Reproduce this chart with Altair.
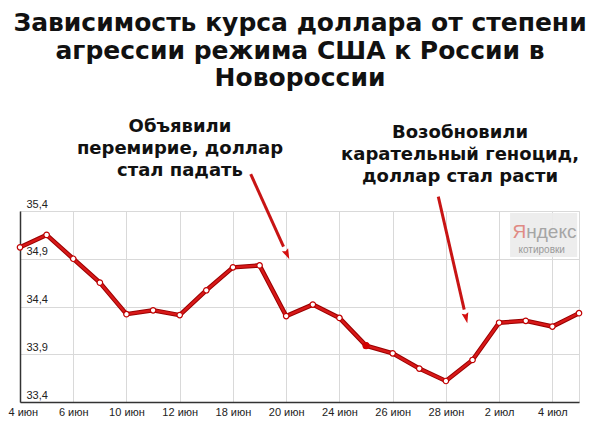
import json
import altair as alt
import pandas as pd

# ---- data ----
dates = ["4 июн", "5 июн", "6 июн", "9 июн", "10 июн", "11 июн", "12 июн",
         "17 июн", "18 июн", "19 июн", "20 июн", "23 июн", "24 июн", "25 июн",
         "26 июн", "27 июн", "28 июн", "30 июн", "2 июл", "3 июл", "4 июл", "5 июл"]
rates = [35.02, 35.15, 34.90, 34.65, 34.32, 34.36, 34.31, 34.57, 34.81, 34.83,
         34.30, 34.42, 34.28, 33.99, 33.91, 33.75, 33.62, 33.84, 34.23, 34.25,
         34.19, 34.33]
highlight_index = 13
y_ticks = [33.4, 33.9, 34.4, 34.9, 35.4]
x_ticks = list(range(0, 21, 2))

title_lines = ["Зависимость курса доллара от степени",
               "агрессии режима США к России в",
               "Новороссии"]
title_y = [37.37, 37.08, 36.79]
title_x = 10.52

note1_lines = ["Объявили", "перемирие, доллар", "стал падать"]
note1_y = [36.28, 36.049, 35.819]
note1_x = 6.01
note2_lines = ["Возобновили", "карательный геноцид,", "доллар стал расти"]
note2_y = [36.217, 35.986, 35.756]
note2_x = 16.53

# arrows (data coordinates): start, shaft end, tip, angle
arrow_x0 = [8.667, 15.714]
arrow_y0 = [35.787, 35.55]
arrow_x1 = [9.899, 16.687]
arrow_y1 = [35.028, 34.368]
arrow_xt = [10.117, 16.804]
arrow_yt = [34.894, 34.224]
arrow_angle = [335.7, 347.1]

df = pd.DataFrame({"idx": list(range(len(dates))), "date": dates, "rate": rates})
df_hi = df[df["idx"] == highlight_index]

x_scale = alt.Scale(domain=[0, len(dates) - 1], nice=False, zero=False)
y_scale = alt.Scale(domain=[33.4, 35.4], nice=False, zero=False)

label_expr = json.dumps(dates, ensure_ascii=False) + "[datum.value]"

x_axis = alt.Axis(values=x_ticks, labelExpr=label_expr, grid=True, gridColor="#d9d9d9",
                  ticks=False, domainColor="#333333", domainWidth=1.5,
                  labelFlush=True, labelFlushOffset=12, labelOverlap=False, labelPadding=4,
                  labelFont="Liberation Sans", labelFontSize=11, labelColor="#222222",
                  title=None)
y_axis = alt.Axis(values=y_ticks, labelExpr="replace(format(datum.value, '.1f'), '.', ',')",
                  grid=True, gridColor="#d9d9d9", ticks=False, tickSize=0,
                  domainColor="#333333", domainWidth=1.5,
                  labelAlign="left", labelBaseline="bottom", labelPadding=-6,
                  labelOffset=-2, labelFlush=False, labelOverlap=False,
                  labelFont="Liberation Sans", labelFontSize=11, labelColor="#222222",
                  title=None)

base = alt.Chart(df)

line_shadow = base.mark_line(color="#9a0000", strokeWidth=4.5).encode(
    x=alt.X("idx:Q", scale=x_scale, axis=x_axis),
    y=alt.Y("rate:Q", scale=y_scale, axis=y_axis),
)
line_main = base.mark_line(color="#d81818", strokeWidth=2.5).encode(
    x=alt.X("idx:Q", scale=x_scale), y=alt.Y("rate:Q", scale=y_scale))
points = base.mark_point(filled=True, fill="white", stroke="#c00000", strokeWidth=1.2,
                         size=30, opacity=1).encode(
    x=alt.X("idx:Q", scale=x_scale), y=alt.Y("rate:Q", scale=y_scale))
point_hi = alt.Chart(df_hi).mark_point(filled=True, color="#d00000", size=50, opacity=1).encode(
    x=alt.X("idx:Q", scale=x_scale), y=alt.Y("rate:Q", scale=y_scale))

# Yandex watermark
wm_box = alt.Chart(pd.DataFrame({"x": [18.41], "x2": [20.93], "y": [35.379], "y2": [34.918]})).mark_rect(
    color="#ececec", opacity=0.92).encode(
    x=alt.X("x:Q", scale=x_scale), x2="x2:Q", y=alt.Y("y:Q", scale=y_scale), y2="y2:Q")
wm_ya = alt.Chart(pd.DataFrame({"x": [18.50], "y": [35.18], "t": ["Я"]})).mark_text(
    align="left", baseline="middle", font="Liberation Sans", fontSize=19, color="#e08a84").encode(
    x=alt.X("x:Q", scale=x_scale), y=alt.Y("y:Q", scale=y_scale), text="t:N")
wm_word = alt.Chart(pd.DataFrame({"x": [19.02], "y": [35.18], "t": ["ндекс"]})).mark_text(
    align="left", baseline="middle", font="Liberation Sans", fontSize=19, color="#a5a5a5").encode(
    x=alt.X("x:Q", scale=x_scale), y=alt.Y("y:Q", scale=y_scale), text="t:N")
wm_sub = alt.Chart(pd.DataFrame({"x": [19.6], "y": [34.995], "t": ["котировки"]})).mark_text(
    align="center", baseline="middle", font="Liberation Sans", fontSize=10, color="#9a9a9a").encode(
    x=alt.X("x:Q", scale=x_scale), y=alt.Y("y:Q", scale=y_scale), text="t:N")

# Title and notes
title_df = pd.DataFrame({"t": title_lines, "y": title_y, "x": [title_x] * len(title_lines)})
title = alt.Chart(title_df).mark_text(
    align="center", baseline="middle", font="DejaVu Sans", fontWeight="bold",
    fontSize=25, color="#111111").encode(
    x=alt.X("x:Q", scale=x_scale), y=alt.Y("y:Q", scale=y_scale), text="t:N")

notes_df = pd.DataFrame({"t": note1_lines + note2_lines,
                         "y": note1_y + note2_y,
                         "x": [note1_x] * 3 + [note2_x] * 3})
notes = alt.Chart(notes_df).mark_text(
    align="center", baseline="middle", font="DejaVu Sans", fontWeight="bold",
    fontSize=18, color="#111111").encode(
    x=alt.X("x:Q", scale=x_scale), y=alt.Y("y:Q", scale=y_scale), text="t:N")

arrows_df = pd.DataFrame({"x0": arrow_x0, "y0": arrow_y0, "x1": arrow_x1, "y1": arrow_y1,
                          "xt": arrow_xt, "yt": arrow_yt, "a": arrow_angle})
shafts = alt.Chart(arrows_df).mark_rule(color="#c81414", strokeWidth=3).encode(
    x=alt.X("x0:Q", scale=x_scale), x2="x1:Q",
    y=alt.Y("y0:Q", scale=y_scale), y2="y1:Q")
heads = alt.Chart(arrows_df).mark_point(
    shape="M0,0L-0.65,-2L0,-1.7L0.65,-2Z", filled=True, color="#d41010", size=110, opacity=1,
    strokeWidth=0).encode(
    x=alt.X("xt:Q", scale=x_scale), y=alt.Y("yt:Q", scale=y_scale),
    angle=alt.Angle("a:Q", scale=None))

chart = alt.layer(
    wm_box, wm_ya, wm_word, wm_sub,
    line_shadow, line_main, points, point_hi,
    shafts, heads, title, notes,
).properties(
    width=559, height=191,
    autosize=alt.AutoSizeParams(type="none"),
    padding={"left": 12, "top": 203, "right": 13, "bottom": 17},
    background="white",
).configure_view(stroke="#d9d9d9")

chart.save("out.html", embed_options={"renderer": "svg", "actions": False})
